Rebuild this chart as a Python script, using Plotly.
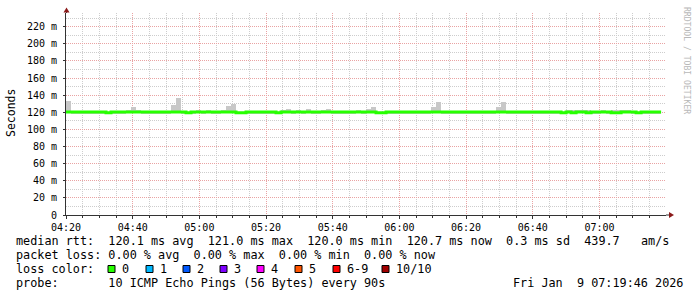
import plotly.graph_objects as go
import pandas as pd

# ---------------- data ----------------
start_time = "2026-01-09 04:20:00"
step_seconds = 90
x_end = "2026-01-09 07:19:58"

# median rtt per 90 s step (ms)
median_ms = [
    120.3, 120.3, 120.3, 120.3, 120.3, 120.3, 120.3, 120.3, 119.6, 120.3,
    120.3, 120.3, 120.3, 120.3, 120.3, 120.3, 120.3, 120.3, 120.3, 120.3,
    120.3, 120.3, 120.3, 120.3, 119.6, 120.3, 120.3, 120.3, 120.3, 120.3,
    120.3, 120.3, 120.3, 120.3, 119.6, 119.6, 120.3, 120.3, 120.3, 120.3,
    120.3, 120.3, 119.6, 120.3, 120.3, 120.3, 120.3, 120.3, 120.3, 120.3,
    120.3, 120.3, 120.3, 120.3, 120.3, 120.3, 120.3, 120.3, 120.3, 120.3,
    120.3, 120.3, 119.6, 119.6, 120.3, 120.3, 120.3, 120.3, 120.3, 120.3,
    120.3, 120.3, 120.3, 120.3, 120.3, 120.3, 120.3, 120.3, 120.3, 120.3,
    120.3, 120.3, 120.3, 120.3, 120.3, 120.3, 120.3, 120.3, 120.3, 120.3,
    120.3, 120.3, 120.3, 120.3, 120.3, 120.3, 120.3, 120.3, 120.3, 119.6,
    120.3, 119.6, 120.3, 120.3, 119.6, 120.3, 120.3, 120.3, 120.3, 119.6,
    119.6, 120.3, 120.3, 120.3, 119.6, 120.3, 120.3, 120.3, 120.3,
]

# upper edge of the smoke (slowest ping) per step (ms)
smoke_max_ms = [
    133.2, 120.5, 120.5, 120.5, 120.5, 120.5, 120.5, 120.5, 120.5, 120.5,
    120.5, 120.5, 122.7, 126.3, 122.7, 120.5, 120.5, 120.5, 120.5, 120.5,
    120.5, 128.5, 136.7, 120.5, 120.5, 120.5, 122.7, 120.5, 122.7, 120.5,
    120.5, 122.7, 127.3, 129.6, 120.5, 120.5, 120.5, 120.5, 120.5, 120.5,
    120.5, 120.5, 120.5, 122.7, 123.8, 120.5, 122.7, 120.5, 123.8, 120.5,
    120.5, 122.7, 123.8, 120.5, 120.5, 120.5, 120.5, 120.5, 122.7, 120.5,
    123.8, 126.3, 120.5, 120.5, 120.5, 120.5, 120.5, 120.5, 120.5, 120.5,
    120.5, 120.5, 120.5, 126.3, 132.0, 120.5, 120.5, 120.5, 120.5, 120.5,
    120.5, 120.5, 120.5, 120.5, 120.5, 120.5, 126.3, 132.0, 120.5, 120.5,
    120.5, 120.5, 120.5, 120.5, 120.5, 120.5, 120.5, 120.5, 120.5, 120.5,
    122.7, 122.7, 122.7, 122.7, 122.7, 120.5, 120.5, 122.7, 120.5, 122.7,
    122.7, 122.7, 122.7, 120.5, 120.5, 120.5, 120.5, 120.5, 120.5,
]
smoke_min_ms = 119.0

y_tick_values = [0, 20, 40, 60, 80, 100, 120, 140, 160, 180, 200, 220]
y_tick_labels = ["0", "20 m", "40 m", "60 m", "80 m", "100 m", "120 m",
                 "140 m", "160 m", "180 m", "200 m", "220 m"]

legend_rtt = "median rtt:  120.1 ms avg  121.0 ms max  120.0 ms min  120.7 ms now  0.3 ms sd  439.7   am/s"
legend_loss = "packet loss: 0.00 % avg  0.00 % max  0.00 % min  0.00 % now"
legend_probe = "probe:       10 ICMP Echo Pings (56 Bytes) every 90s"
legend_date = "Fri Jan  9 07:19:46 2026"
loss_labels = ["0", "1", "2", "3", "4", "5", "6-9", "10/10"]
loss_colors = ["#26ff00", "#00b8ff", "#0059ff", "#7e00ff", "#ff00ff",
               "#ff5500", "#ff0000", "#a10000"]

# ---------------- figure ----------------
n = len(median_ms)
times = pd.date_range(start_time, periods=n + 1, freq=f"{step_seconds}s")
centers = times[:-1] + pd.Timedelta(seconds=step_seconds / 2)

W, H = 697, 297
L, R, T, B = 66, 31, 13, 82
PW, PH = W - L - R, H - T - B
MONO = "DejaVu Sans Mono"


def px(xp):
    return (xp - L) / PW


def py(yp):
    return (H - B - yp) / PH


fig = go.Figure()
fig.add_trace(go.Bar(
    x=centers, y=[v - smoke_min_ms for v in smoke_max_ms], base=smoke_min_ms,
    width=step_seconds * 1000, marker=dict(color="#c8c8c8", line=dict(width=0)),
    hoverinfo="skip", showlegend=False))
fig.add_trace(go.Scatter(
    x=list(times), y=median_ms + [median_ms[-1]], mode="lines",
    line=dict(color="#26ff00", width=3, shape="hv"),
    hoverinfo="skip", showlegend=False))

fig.update_layout(
    width=W, height=H, margin=dict(l=L, r=R, t=T, b=B, pad=0),
    paper_bgcolor="white", plot_bgcolor="white", bargap=0,
    font=dict(family=MONO, size=10, color="#000000"),
)
fig.update_xaxes(
    range=[start_time, x_end], type="date",
    tick0=start_time, dtick=20 * 60 * 1000, tickformat="%H:%M",
    showgrid=True, gridcolor="#e9a3a3", griddash="1px,1px", gridwidth=1,
    minor=dict(dtick=5 * 60 * 1000, tick0=start_time, showgrid=True,
               gridcolor="#cdcdcd", griddash="1px,1px", gridwidth=1,
               ticks="outside", ticklen=2, tickcolor="#333333"),
    ticks="outside", ticklen=3, tickcolor="#333333",
    showline=True, linecolor="#333333", linewidth=1,
    tickfont=dict(family=MONO, size=10, color="#000000"),
    zeroline=False,
)
fig.update_yaxes(
    range=[0, 236], tickvals=y_tick_values, ticktext=y_tick_labels,
    showgrid=True, gridcolor="#e9a3a3", griddash="1px,1px", gridwidth=1,
    minor=dict(dtick=10, tick0=0, showgrid=True, gridcolor="#cdcdcd",
               griddash="1px,1px", gridwidth=1),
    ticks="outside", ticklen=2, tickcolor="#333333",
    showline=True, linecolor="#333333", linewidth=1,
    tickfont=dict(family=MONO, size=10, color="#000000"),
    zeroline=False, ticklabelstandoff=4,
)

shapes = []
arrow_col = "#8b1a1a"
# top arrow on y axis
shapes.append(dict(type="line", xref="paper", yref="paper", x0=px(66.5), x1=px(66.5),
                   y0=1, y1=py(10), line=dict(color="#333333", width=1)))
shapes.append(dict(type="path", xref="paper", yref="paper",
                   path=f"M {px(63.5)} {py(12.5)} L {px(69.5)} {py(12.5)} L {px(66.5)} {py(7.5)} Z",
                   fillcolor=arrow_col, line=dict(color=arrow_col, width=0)))
# right arrow on x axis
shapes.append(dict(type="line", xref="paper", yref="paper", x0=1, x1=px(669),
                   y0=0, y1=0, line=dict(color="#333333", width=1)))
shapes.append(dict(type="path", xref="paper", yref="paper",
                   path=f"M {px(669)} {py(212)} L {px(669)} {py(218)} L {px(674)} {py(215)} Z",
                   fillcolor=arrow_col, line=dict(color=arrow_col, width=0)))

annotations = []


def text(s, x, y, size=11.8, anchor="left", color="#000000", angle=0, yanchor="middle"):
    annotations.append(dict(text=s, xref="paper", yref="paper", x=px(x), y=py(y),
                            xanchor=anchor, yanchor=yanchor, showarrow=False,
                            font=dict(family=MONO, size=size, color=color),
                            borderpad=0, borderwidth=0, textangle=angle))


text("Seconds", 11, 113, size=11.5, anchor="center", angle=-90)
text("RRDTOOL / TOBI OETIKER", 687, 60, size=8.1, anchor="center", color="#b8b8b8", angle=90)
text(legend_rtt.replace(" ", "&nbsp;"), 16, 241)
text(legend_loss.replace(" ", "&nbsp;"), 16, 255)
text("loss&nbsp;color:", 16, 269)
square_x = [108, 146, 183, 220, 257, 295, 333, 382]
for sx, lab, col in zip(square_x, loss_labels, loss_colors):
    shapes.append(dict(type="rect", xref="paper", yref="paper",
                       x0=px(sx), x1=px(sx + 7), y0=py(265.5), y1=py(272.5),
                       fillcolor=col, line=dict(color="#000000", width=1)))
    text(lab, sx + 14, 269)
text(legend_probe.replace(" ", "&nbsp;"), 16, 283)
text(legend_date.replace(" ", "&nbsp;"), 513, 283)

fig.update_layout(shapes=shapes, annotations=annotations)
fig.write_html("out.html")
